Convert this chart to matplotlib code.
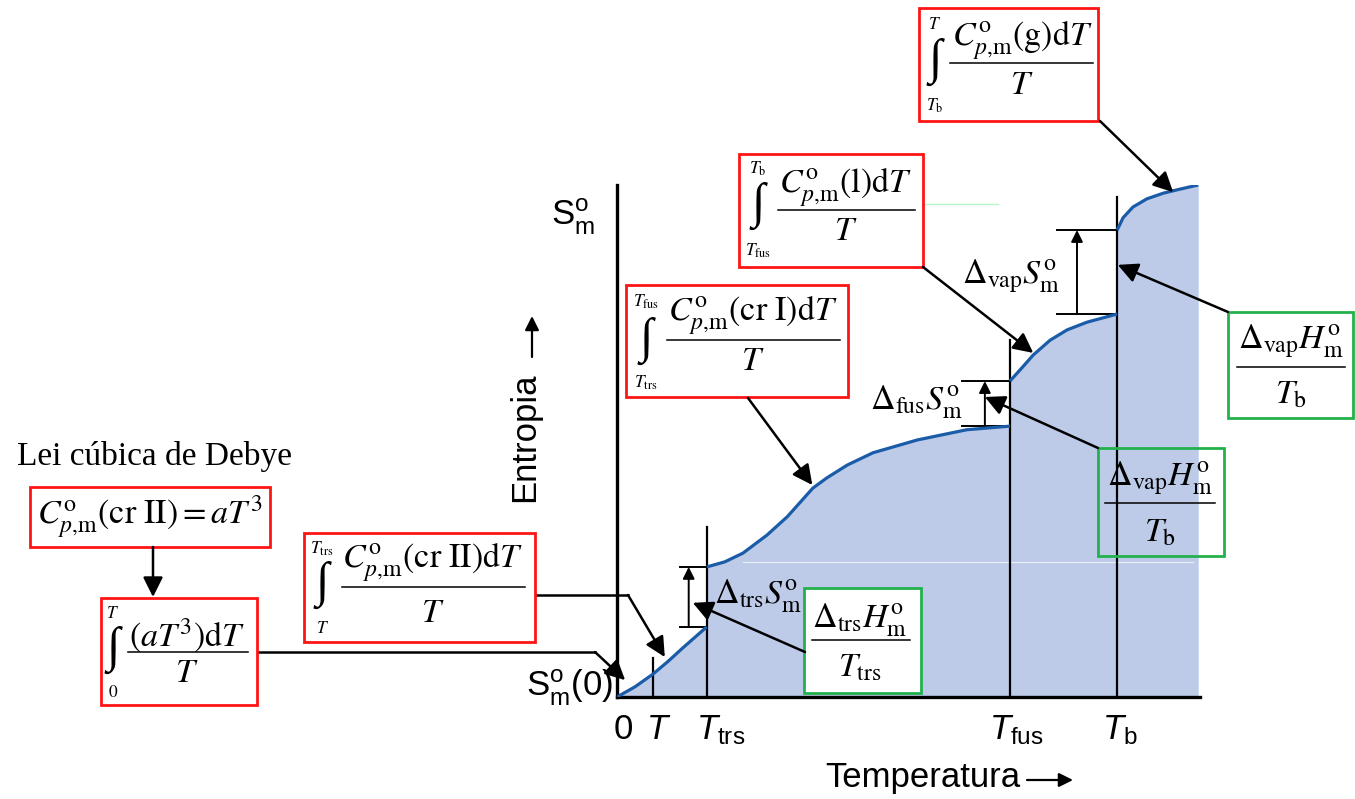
import numpy as np
import matplotlib.pyplot as plt
from matplotlib.patches import Rectangle

plt.rcParams['font.family'] = ['Liberation Sans', 'DejaVu Sans']
plt.rcParams['mathtext.fontset'] = 'custom'
plt.rcParams['mathtext.rm'] = 'Liberation Sans'
plt.rcParams['mathtext.it'] = 'Liberation Sans:italic'
plt.rcParams['mathtext.bf'] = 'Liberation Sans:bold'

# temperatures on a 0-100 schematic scale
T_pt = 6.2      # the "T" mark
T_trs = 15.4
T_fus = 67.4
T_b = 85.8

# entropy curve (0-100 schematic scale), one piece per phase
cr2_T = [0.0, 3.1, 6.2, 8.8, 11.3, 13.4, 15.4]
cr2_S = [0.0, 2.0, 4.5, 7.0, 9.6, 11.7, 13.7]
cr1_T = [15.4, 18.5, 21.6, 25.7, 29.2, 33.6, 36.0, 39.5, 43.9, 51.5, 60.0, 67.4]
cr1_S = [25.4, 26.4, 28.1, 31.6, 35.2, 40.8, 42.8, 45.3, 47.7, 50.2, 52.2, 52.9]
liq_T = [67.4, 69.3, 71.4, 74.3, 77.2, 80.6, 85.8]
liq_S = [61.7, 64.1, 66.8, 69.7, 71.7, 73.2, 74.8]
gas_T = [85.8, 86.8, 88.5, 90.9, 93.7, 96.6, 99.7]
gas_S = [91.2, 93.6, 95.7, 97.3, 98.4, 99.2, 100.0]

# heights of the marker lines at the temperatures
mark_T = [T_pt, T_trs, T_fus, T_b]
mark_top = [7.6, 33.2, 69.7, 97.7]

tick_labels = ['0', r'$T$', r'$T_{\rm trs}$', r'$T_{\rm fus}$', r'$T_{\rm b}$']

blue = '#1a5ca8'
fill = '#bdcbe8'
red = '#ff1414'
green = '#22b14c'

W, H = 1355, 799
fig = plt.figure(figsize=(W / 100, H / 100), dpi=100)

# chart axes
ax = fig.add_axes([617 / W, (H - 697) / H, 583 / W, 512 / H])
ax.set_xlim(0, 100)
ax.set_ylim(0, 100)
ax.set_xticks([])
ax.set_yticks([])
for side in ['top', 'right']:
    ax.spines[side].set_visible(False)
for side in ['left', 'bottom']:
    ax.spines[side].set_linewidth(2.4)

T_all = cr2_T + cr1_T + liq_T + gas_T
S_all = cr2_S + cr1_S + liq_S + gas_S
ax.fill_between(T_all, 0, S_all, color=fill, lw=0, zorder=1)
ax.plot([21.6, 98.8], [26.4, 26.4], color='white', lw=0.8, alpha=0.7, zorder=1.5)
for ts, ss in [(cr2_T, cr2_S), (cr1_T, cr1_S), (liq_T, liq_S), (gas_T, gas_S)]:
    ax.plot(ts, ss, color=blue, lw=2.3, zorder=3, solid_capstyle='butt')

for t, top in zip(mark_T, mark_top):
    ax.plot([t, t], [0, top], color='black', lw=1.6, zorder=2)

# brackets for the entropy jumps
brackets = [(T_trs, cr2_S[-1], cr1_S[0], 4.6, 3.1),
            (T_fus, cr1_S[-1], liq_S[0], 8.2, 4.3),
            (T_b, liq_S[-1], gas_S[0], 10.3, 6.9)]
for t, lo, hi, length, off in brackets:
    ax.plot([t - length, t], [lo, lo], color='black', lw=1.4, zorder=2)
    ax.plot([t - length, t], [hi, hi], color='black', lw=1.4, zorder=2)
    ax.annotate('', xy=(t - off, hi), xytext=(t - off, lo),
                arrowprops=dict(arrowstyle='-|>,head_length=0.5,head_width=0.25',
                                color='black', lw=1.4, mutation_scale=14,
                                shrinkA=0, shrinkB=0), zorder=2)

# overlay in pixel coordinates for boxes and labels
ov = fig.add_axes([0, 0, 1, 1], zorder=5)
ov.set_xlim(0, W)
ov.set_ylim(H, 0)
ov.axis('off')
ov.patch.set_alpha(0)

SER = dict(math_fontfamily='stix')
FS = 24.5


def box(x0, y0, x1, y1, color, face='white'):
    ov.add_patch(Rectangle((x0, y0), x1 - x0, y1 - y0, facecolor=face,
                           edgecolor=color, lw=2, zorder=3))


def frac(cx, y_num, y_bar, y_den, bx0, bx1, num, den, size=FS):
    ov.text(cx, y_num, num, ha='center', va='center', fontsize=size, zorder=4, **SER)
    ov.plot([bx0, bx1], [y_bar, y_bar], color='black', lw=1.1, zorder=4)
    ov.text(cx, y_den, den, ha='center', va='center', fontsize=size, zorder=4, **SER)


def integral(x, y_up, y_int, y_lo, up, lo):
    ov.text(x, y_up - 2, up, ha='center', va='center', fontsize=12.5, zorder=4, **SER)
    ov.text(x, y_int, '∫', ha='center', va='center', fontsize=35, zorder=4,
            family=['Liberation Serif', 'DejaVu Serif'])
    ov.text(x, y_lo + 2, lo, ha='center', va='center', fontsize=12.5, zorder=4, **SER)


arrow = dict(arrowstyle='-|>,head_length=0.6,head_width=0.3', color='black',
             lw=1.8, mutation_scale=20, shrinkA=0, shrinkB=0)
small_arrow = dict(arrowstyle='-|>,head_length=0.6,head_width=0.3',
                   color='black', lw=1.6, mutation_scale=14, shrinkA=0, shrinkB=0)


def point(x0, y0, T, S):
    ov.annotate('', xy=(T, S), xycoords=ax.transData, xytext=(x0, y0),
                textcoords='data', arrowprops=arrow, zorder=6)


# red boxes with the integrals
box(919, 8, 1098, 121, red)
integral(935, 26, 62, 104, r'$T$', r'$T_{\rm b}$')
frac(1022, 40, 63, 86, 950, 1093, r'$C^{\rm o}_{p{,}\rm m}(\mathrm{g})\mathrm{d}T$', r'$T$')
point(1100, 121, 95.4, 98.6)

box(739, 154, 923, 267, red)
integral(758, 171, 206, 249, r'$T_{\rm b}$', r'$T_{\rm fus}$')
frac(846, 187, 210, 232, 778, 915, r'$C^{\rm o}_{p{,}\rm m}(\mathrm{l})\mathrm{d}T$', r'$T$')
point(923, 267, 71.4, 67.2)

box(626, 285, 848, 397, red)
integral(646, 304, 341, 381, r'$T_{\rm fus}$', r'$T_{\rm trs}$')
frac(753, 315, 340, 362, 667, 840, r'$C^{\rm o}_{p{,}\rm m}(\mathrm{cr\ I})\mathrm{d}T$', r'$T$')
point(748, 398, 33.5, 41.4)

box(304, 533, 535, 642, red)
integral(322, 551, 585, 626, r'$T_{\rm trs}$', r'$T$')
frac(433, 562, 587, 613, 342, 525, r'$C^{\rm o}_{p{,}\rm m}(\mathrm{cr\ II})\mathrm{d}T$', r'$T$')
ov.plot([535, 628], [595, 595], color='black', lw=1.8)
point(628, 595, 8.2, 7.8)

ov.text(17, 457, 'Lei cúbica de Debye', ha='left', va='center', fontsize=24,
        family='Liberation Serif')
box(30, 487, 270, 547, red)
ov.text(150, 517, r'$C^{\rm o}_{p{,}\rm m}(\mathrm{cr\ II}) = aT^{3}$', ha='center',
        va='center', fontsize=FS, zorder=4, **SER)
ov.annotate('', xy=(153, 597), xytext=(153, 547), arrowprops=arrow, zorder=6)

box(101, 598, 257, 705, red)
integral(113, 615, 650, 690, r'$T$', r'$0$')
frac(187, 635, 652, 673, 128, 248, r'$(aT^{3})\mathrm{d}T$', r'$T$')
ov.plot([257, 595], [652, 652], color='black', lw=1.8)
point(595, 652, 1.4, 3.3)

# green boxes with the transition terms
box(804, 588, 921, 693, green)
frac(860, 620, 640, 668, 812, 910, r'$\Delta_{\rm trs}H^{\rm o}_{\rm m}$', r'$T_{\rm trs}$')
point(805, 652, 13.0, 18.4)

box(1098, 448, 1224, 556, green, face='none')
frac(1160, 478, 503, 533, 1105, 1215, r'$\Delta_{\rm vap}H^{\rm o}_{\rm m}$', r'$T_{\rm b}$')
point(1098, 448, 63.1, 58.6)

box(1228, 312, 1353, 418, green)
frac(1291, 341, 367, 395, 1237, 1345, r'$\Delta_{\rm vap}H^{\rm o}_{\rm m}$', r'$T_{\rm b}$')
point(1228, 312, 85.9, 84.4)

# entropy jump labels
ov.text(714, 595, r'$\Delta_{\rm trs}S^{\rm o}_{\rm m}$', ha='left', va='center', fontsize=FS, **SER)
ov.text(963, 402, r'$\Delta_{\rm fus}S^{\rm o}_{\rm m}$', ha='right', va='center', fontsize=FS, **SER)
ov.text(962, 276, r'$\Delta_{\rm vap}S^{\rm o}_{\rm m}$', ha='left', va='center', fontsize=FS, **SER)

ov.plot([910, 998], [204, 204], color='#b8f5c8', lw=1)

# axis labels
ov.text(573, 217, r'$\mathrm{S}^{\rm o}_{\rm m}$', ha='center', va='center', fontsize=25)
ov.text(613, 688, r'$\mathrm{S}^{\rm o}_{\rm m}(0)$', ha='right', va='center', fontsize=25)
tick_x = [614, 646, 696, 989, 1102]
for x, lab in zip(tick_x, tick_labels):
    ov.text(x, 739, lab, ha='left', va='baseline', fontsize=25)

ov.text(525, 437, 'Entropia', rotation=90, ha='center', va='center', fontsize=25)
ov.annotate('', xy=(532, 316), xytext=(532, 357), arrowprops=small_arrow)
ov.text(825, 777, 'Temperatura', ha='left', va='center', fontsize=25)
ov.annotate('', xy=(1073, 780), xytext=(1027, 780), arrowprops=small_arrow)

fig.savefig('out.png', dpi=100)
